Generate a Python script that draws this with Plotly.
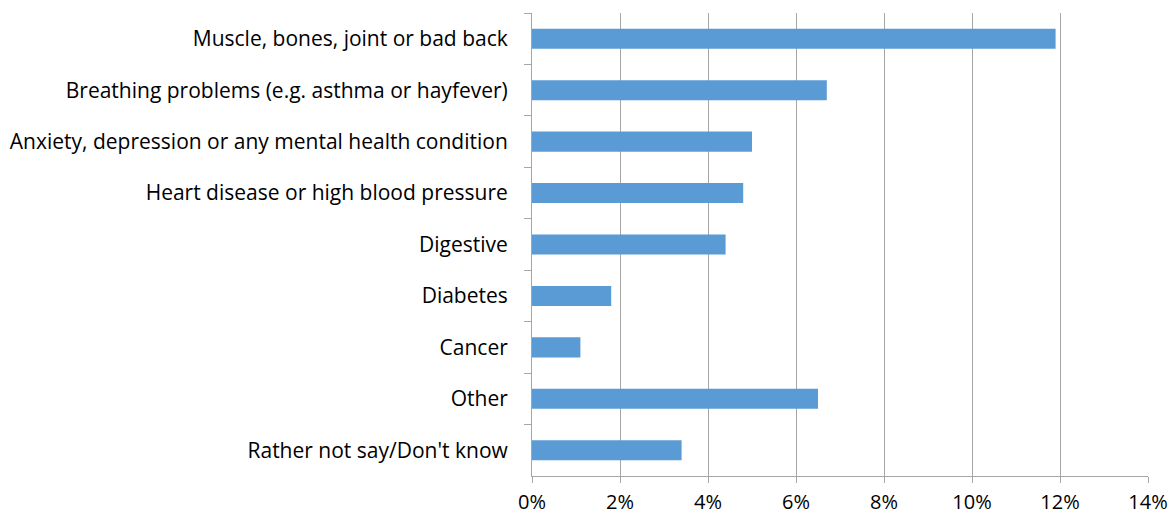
import plotly.graph_objects as go

categories = [
    "Muscle, bones, joint or bad back",
    "Breathing problems (e.g. asthma or hayfever)",
    "Anxiety, depression or any mental health condition",
    "Heart disease or high blood pressure",
    "Digestive",
    "Diabetes",
    "Cancer",
    "Other",
    "Rather not say/Don't know",
]
values = [0.119, 0.067, 0.050, 0.048, 0.044, 0.018, 0.011, 0.065, 0.034]
x_ticks = [0, 0.02, 0.04, 0.06, 0.08, 0.10, 0.12, 0.14]
x_tick_labels = ["0%", "2%", "4%", "6%", "8%", "10%", "12%", "14%"]

fig = go.Figure(
    go.Bar(
        x=values,
        y=categories,
        orientation="h",
        marker=dict(color="#5B9BD5", line=dict(width=0)),
        hoverinfo="x+y",
    )
)

font = dict(family="'Open Sans', 'Noto Sans', sans-serif", size=21, color="#000000")
x_font = dict(family="'Open Sans', 'Noto Sans', sans-serif", size=20, color="#000000")

fig.update_layout(
    width=1174,
    height=517,
    margin=dict(l=532, r=26, t=13, b=41),
    paper_bgcolor="white",
    plot_bgcolor="white",
    bargap=0.61,
    showlegend=False,
    font=font,
)

fig.update_xaxes(
    range=[0, 0.14],
    tickvals=x_ticks,
    ticktext=x_tick_labels,
    showgrid=True,
    gridcolor="#A6A6A6",
    gridwidth=1,
    zeroline=False,
    showline=True,
    linecolor="#A6A6A6",
    linewidth=1,
    ticks="outside",
    ticklen=6,
    tickcolor="#A6A6A6",
    tickfont=x_font,
    ticklabelstandoff=2,
    automargin=False,
)

fig.update_yaxes(
    categoryorder="array",
    categoryarray=categories,
    autorange="reversed",
    showgrid=False,
    showline=True,
    linecolor="#A6A6A6",
    linewidth=1,
    ticks="outside",
    ticklen=7,
    tickcolor="#A6A6A6",
    tickson="boundaries",
    tickfont=font,
    ticklabelstandoff=19,
    automargin=False,
)

fig.write_html("out.html")
